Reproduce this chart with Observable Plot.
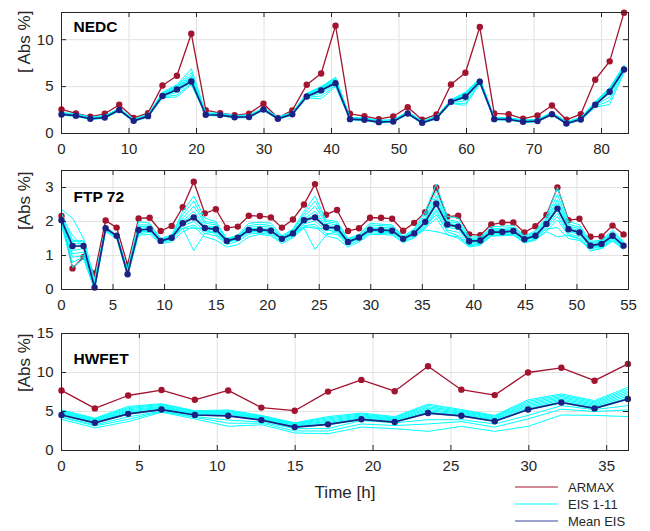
<!DOCTYPE html>
<html><head><meta charset="utf-8">
<script src="https://cdn.jsdelivr.net/npm/d3@7"></script>
<script src="https://cdn.jsdelivr.net/npm/@observablehq/plot@0.6"></script>
<style>
body{margin:0;background:#fff;}
#wrap{position:relative;width:650px;height:531px;font-family:"Liberation Sans",Arial,Helvetica,sans-serif;}
#wrap svg{position:absolute;left:0;}
</style></head><body><div id="wrap"></div>
<script>
// ---------------- NEDC ----------------
const nedcTime = [0,2.14,4.27,6.41,8.55,10.69,12.82,14.96,17.1,19.23,21.37,23.51,25.64,27.78,29.92,32.06,34.19,36.33,38.47,40.6,
  42.74,44.88,47.01,49.15,51.29,53.43,55.56,57.7,59.84,61.97,64.11,66.25,68.38,70.52,72.66,74.8,76.93,79.07,81.21,83.34];
const nedcArmax = [2.56,2.15,1.8,2.1,3.06,1.67,2.17,5.12,6.16,10.64,
  2.49,2.17,1.96,2.12,3.17,1.67,2.46,5.2,6.4,11.5,
  2.1,1.85,1.53,1.82,2.8,1.46,2.03,5.23,6.48,11.35,
  2.14,2.06,1.57,1.92,2.99,1.46,2.06,5.73,7.69,12.88];
const nedcMean = [2.03,1.9,1.57,1.7,2.5,1.35,1.85,4.0,4.7,5.55,
  2.0,1.96,1.74,1.76,2.56,1.57,2.06,3.95,4.6,5.37,
  1.53,1.46,1.21,1.28,2.14,1.14,1.64,3.38,3.91,5.52,
  1.53,1.5,1.25,1.32,2.06,1.07,1.5,3.06,4.45,6.83];
const nedcEis = [
 [2.23,2.1,1.77,1.9,2.7,1.55,2.05,4.4,5.2,6.9, 2.2,2.16,1.94,1.96,2.76,1.77,2.26,4.3,5.0,6.0, 1.73,1.66,1.41,1.48,2.34,1.34,1.84,3.6,4.4,5.9, 1.73,1.7,1.45,1.52,2.26,1.27,1.7,3.4,4.9,7.3],
 [2.19,2.06,1.73,1.86,2.66,1.51,2.01,4.3,5.1,6.5, 2.16,2.12,1.9,1.92,2.72,1.73,2.22,4.25,4.95,5.9, 1.69,1.62,1.37,1.44,2.3,1.3,1.8,3.55,4.35,5.85, 1.69,1.66,1.41,1.48,2.22,1.23,1.66,3.35,4.85,7.2],
 [2.16,2.03,1.7,1.83,2.63,1.48,1.98,4.25,5.0,6.2, 2.13,2.09,1.87,1.89,2.69,1.7,2.19,4.2,4.9,5.8, 1.66,1.59,1.34,1.41,2.27,1.27,1.77,3.5,4.3,5.8, 1.66,1.63,1.38,1.45,2.19,1.2,1.63,3.3,4.8,7.15],
 [2.13,2.0,1.67,1.8,2.6,1.45,1.95,4.2,4.95,6.0, 2.1,2.06,1.84,1.86,2.66,1.67,2.16,4.15,4.85,5.7, 1.63,1.56,1.31,1.38,2.24,1.24,1.74,3.48,4.25,5.75, 1.63,1.6,1.35,1.42,2.16,1.17,1.6,3.25,4.75,7.1],
 [2.1,1.97,1.64,1.77,2.57,1.42,1.92,4.15,4.9,5.9, 2.07,2.03,1.81,1.83,2.63,1.64,2.13,4.1,4.8,5.6, 1.6,1.53,1.28,1.35,2.21,1.21,1.71,3.45,4.2,5.7, 1.6,1.57,1.32,1.39,2.13,1.14,1.57,3.2,4.7,7.05],
 [2.08,1.95,1.62,1.75,2.55,1.4,1.9,4.1,4.8,5.8, 2.05,2.01,1.79,1.81,2.61,1.62,2.11,4.05,4.75,5.55, 1.58,1.51,1.26,1.33,2.19,1.19,1.69,3.42,4.1,5.65, 1.58,1.55,1.3,1.37,2.11,1.12,1.55,3.15,4.6,7.0],
 [2.06,1.93,1.6,1.73,2.53,1.38,1.88,4.05,4.7,5.7, 2.03,1.99,1.77,1.79,2.59,1.6,2.09,4.0,4.7,5.5, 1.56,1.49,1.24,1.31,2.17,1.17,1.67,3.4,4.0,5.6, 1.56,1.53,1.28,1.35,2.09,1.1,1.53,3.1,4.5,6.95],
 [2.04,1.91,1.58,1.71,2.51,1.36,1.86,4.0,4.6,5.6, 2.01,1.97,1.75,1.77,2.57,1.58,2.07,3.95,4.5,5.4, 1.54,1.47,1.22,1.29,2.15,1.15,1.65,3.35,3.8,5.55, 1.54,1.51,1.26,1.33,2.07,1.08,1.51,3.05,4.3,6.9],
 [2.01,1.88,1.55,1.68,2.48,1.33,1.83,3.95,4.4,5.5, 1.98,1.94,1.72,1.74,2.54,1.55,2.04,3.9,4.3,5.3, 1.51,1.44,1.19,1.26,2.12,1.12,1.62,3.3,3.5,5.5, 1.51,1.48,1.23,1.3,2.04,1.05,1.48,3.0,3.9,6.8],
 [1.98,1.85,1.52,1.65,2.45,1.3,1.8,3.9,4.1,5.35, 1.95,1.91,1.69,1.71,2.51,1.52,2.01,3.85,4.0,5.15, 1.48,1.41,1.16,1.23,2.09,1.09,1.59,3.25,3.2,5.4, 1.48,1.45,1.2,1.27,2.01,1.02,1.45,2.9,3.5,6.65],
 [1.95,1.82,1.49,1.62,2.42,1.27,1.77,3.8,3.9,5.2, 1.92,1.88,1.66,1.68,2.48,1.49,1.98,3.8,3.7,5.0, 1.45,1.38,1.13,1.2,2.06,1.06,1.56,3.2,3.0,5.3, 1.45,1.42,1.17,1.24,1.98,0.99,1.42,2.8,3.1,6.5]
];
const nedcXTicks = [0,10,20,30,40,50,60,70,80];
const nedcYTicks = [0,5,10];

// ---------------- FTP 72 ----------------
const ftpTime = [0,1.07,2.14,3.21,4.28,5.35,6.41,7.48,8.55,9.62,10.69,11.76,12.83,13.9,14.97,16.04,17.1,18.17,
  19.24,20.31,21.38,22.45,23.52,24.59,25.66,26.73,27.79,28.86,29.93,31.0,32.07,33.14,34.21,35.28,36.35,
  37.42,38.48,39.55,40.62,41.69,42.76,43.83,44.9,45.97,47.04,48.11,49.18,50.24,51.31,52.38,53.45,54.52];
const ftpArmax = [2.16,0.62,0.96,0.47,2.03,1.82,0.72,2.09,2.11,1.72,1.87,2.42,3.17,2.24,2.36,1.81,1.85,2.17,
  2.16,2.12,1.82,2.06,2.5,3.1,2.2,2.34,1.72,1.8,2.11,2.11,2.08,1.73,1.96,2.27,3.0,
  2.14,2.17,1.62,1.6,1.91,1.97,1.97,1.68,1.86,2.19,3.0,2.04,2.08,1.55,1.56,1.88,1.62];
const ftpMean = [2.04,1.28,1.28,0.06,1.8,1.58,0.45,1.75,1.78,1.43,1.52,1.95,2.12,1.81,1.77,1.43,1.52,1.75,
  1.76,1.73,1.49,1.65,2.04,2.12,1.83,1.81,1.40,1.53,1.76,1.75,1.73,1.49,1.65,1.99,2.52,
  1.91,1.85,1.42,1.44,1.69,1.69,1.72,1.48,1.58,1.93,2.38,1.77,1.68,1.29,1.34,1.58,1.29];
const ftpEis = [
 [2.35,2.10,1.50,0.30,1.85,1.60,0.60,2.00,1.95,1.50,1.60,2.30,2.75,2.10,2.00,1.50,1.60,1.95, 1.98,1.95,1.58,1.78,2.30,2.75,2.05,2.00,1.50,1.62,1.95,1.92,1.90,1.57,1.78,2.30,3.10, 2.15,2.10,1.55,1.55,1.85,1.86,1.88,1.58,1.72,2.15,3.00,2.00,1.90,1.42,1.45,1.75,1.42],
 [2.25,1.45,1.40,0.20,1.84,1.60,0.55,1.90,1.90,1.48,1.58,2.20,2.60,2.00,1.95,1.48,1.58,1.88, 1.92,1.88,1.55,1.75,2.22,2.60,2.00,1.95,1.47,1.60,1.90,1.88,1.86,1.55,1.74,2.20,2.90, 2.05,2.00,1.50,1.52,1.80,1.80,1.83,1.55,1.68,2.08,2.80,1.92,1.83,1.38,1.42,1.70,1.38],
 [2.15,1.35,1.35,0.12,1.82,1.59,0.50,1.85,1.86,1.46,1.56,2.10,2.45,1.95,1.90,1.46,1.56,1.83, 1.86,1.83,1.53,1.71,2.15,2.45,1.95,1.90,1.45,1.57,1.84,1.83,1.81,1.53,1.71,2.12,2.75, 2.00,1.95,1.47,1.49,1.76,1.76,1.79,1.53,1.64,2.03,2.65,1.87,1.78,1.35,1.39,1.66,1.35],
 [2.08,1.25,1.30,0.08,1.80,1.58,0.47,1.80,1.82,1.44,1.54,2.02,2.30,1.88,1.84,1.44,1.54,1.79, 1.80,1.77,1.51,1.68,2.08,2.30,1.88,1.85,1.42,1.55,1.80,1.79,1.77,1.51,1.68,2.05,2.65, 1.95,1.90,1.45,1.47,1.73,1.73,1.75,1.50,1.61,1.98,2.55,1.82,1.73,1.32,1.37,1.62,1.32],
 [2.02,1.15,1.20,0.05,1.79,1.57,0.45,1.76,1.79,1.43,1.52,1.97,2.20,1.84,1.80,1.42,1.52,1.76, 1.77,1.74,1.49,1.66,2.04,2.20,1.85,1.82,1.40,1.53,1.77,1.76,1.74,1.49,1.66,2.00,2.55, 1.92,1.87,1.43,1.45,1.70,1.70,1.73,1.48,1.59,1.95,2.45,1.78,1.70,1.30,1.35,1.59,1.30],
 [1.98,1.05,1.10,0.03,1.78,1.56,0.44,1.72,1.75,1.42,1.50,1.92,2.10,1.78,1.74,1.40,1.50,1.72, 1.73,1.70,1.47,1.63,1.98,2.12,1.80,1.77,1.38,1.51,1.73,1.72,1.70,1.47,1.63,1.95,2.45, 1.88,1.82,1.40,1.42,1.67,1.67,1.70,1.46,1.56,1.90,2.35,1.74,1.66,1.27,1.32,1.56,1.27],
 [1.95,0.95,1.00,0.02,1.76,1.55,0.42,1.68,1.72,1.40,1.48,1.88,2.00,1.72,1.68,1.37,1.48,1.68, 1.70,1.67,1.45,1.60,1.93,2.02,1.74,1.72,1.35,1.49,1.70,1.69,1.67,1.45,1.60,1.90,2.35, 1.83,1.77,1.37,1.40,1.64,1.64,1.67,1.44,1.53,1.86,2.25,1.70,1.62,1.24,1.29,1.53,1.24],
 [1.92,0.80,0.95,0.01,1.74,1.53,0.41,1.64,1.68,1.38,1.45,1.80,1.90,1.65,1.58,1.32,1.42,1.63, 1.66,1.62,1.40,1.56,1.87,1.92,1.65,1.62,1.30,1.45,1.66,1.65,1.63,1.41,1.56,1.85,2.20, 1.75,1.68,1.32,1.36,1.60,1.61,1.63,1.40,1.49,1.80,2.15,1.64,1.55,1.20,1.25,1.48,1.20],
 [1.90,0.65,0.90,0.00,1.70,1.50,0.40,1.60,1.62,1.35,1.40,1.70,1.85,1.55,1.45,1.25,1.32,1.55, 1.62,1.58,1.35,1.52,1.82,1.85,1.58,1.50,1.25,1.40,1.62,1.62,1.60,1.38,1.52,1.80,2.10, 1.60,1.55,1.28,1.33,1.57,1.58,1.60,1.37,1.45,1.72,2.05,1.58,1.48,1.15,1.20,1.42,1.18],
 [2.00,1.40,1.45,0.10,1.78,1.56,0.50,1.70,1.72,1.42,1.52,1.80,1.80,1.80,1.62,1.38,1.50,1.70, 1.72,1.70,1.48,1.62,1.85,1.80,1.80,1.66,1.36,1.50,1.72,1.72,1.70,1.47,1.60,1.82,2.30, 1.70,1.58,1.30,1.38,1.66,1.66,1.69,1.46,1.55,1.78,1.82,1.50,1.44,1.22,1.28,1.50,1.25],
 [2.10,1.60,1.20,0.15,1.80,1.58,0.55,1.75,1.75,1.45,1.55,1.80,1.14,1.65,1.70,1.40,1.52,1.70, 1.74,1.72,1.48,1.64,1.80,1.18,1.60,1.72,1.38,1.52,1.74,1.74,1.72,1.48,1.62,1.75,1.70, 1.62,1.50,1.25,1.30,1.58,1.60,1.62,1.38,1.48,1.70,1.55,1.60,1.50,1.13,1.22,1.45,1.22]
];
const ftpXTicks = [0,5,10,15,20,25,30,35,40,45,50,55];
const ftpYTicks = [0,1,2,3];

// ---------------- HWFET ----------------
const hwTime = [0,2.14,4.28,6.42,8.56,10.7,12.83,14.97,17.11,19.25,21.39,23.53,25.67,27.81,29.95,32.09,34.22,36.36];
const hwArmax = [7.7,5.4,7.05,7.75,6.5,7.7,5.5,5.1,7.55,9.05,7.6,10.8,7.8,7.1,10.0,10.6,8.95,11.1];
const hwMean = [4.55,3.55,4.7,5.25,4.55,4.45,3.9,3.0,3.35,4.0,3.65,4.8,4.45,3.75,5.25,6.15,5.4,6.6];
const hwEis = [
 [5.2,4.15,5.65,6.0,5.1,5.2,4.5,3.55,4.35,4.8,4.35,5.95,5.25,4.5,6.5,7.25,6.4,8.1],
 [5.1,4.05,5.5,5.9,5.02,5.09,4.41,3.47,4.2,4.68,4.25,5.78,5.13,4.39,6.31,7.09,6.25,7.88],
 [5.0,3.97,5.37,5.78,4.94,4.98,4.32,3.39,4.05,4.56,4.14,5.6,5.01,4.28,6.13,6.92,6.1,7.65],
 [4.9,3.88,5.22,5.66,4.85,4.86,4.23,3.3,3.9,4.44,4.04,5.43,4.89,4.16,5.94,6.76,5.95,7.43],
 [4.81,3.79,5.08,5.55,4.77,4.75,4.14,3.22,3.75,4.32,3.93,5.26,4.77,4.05,5.75,6.59,5.8,7.2],
 [4.71,3.7,4.94,5.44,4.69,4.64,4.05,3.14,3.6,4.2,3.83,5.09,4.65,3.94,5.56,6.43,5.65,6.98],
 [4.62,3.61,4.8,5.33,4.6,4.52,3.96,3.05,3.45,4.08,3.72,4.92,4.53,3.83,5.38,6.26,5.5,6.75],
 [4.52,3.52,4.65,5.21,4.52,4.41,3.87,2.97,3.3,3.96,3.62,4.74,4.41,3.71,5.19,6.1,5.35,6.53],
 [4.3,3.3,4.3,5.05,4.35,3.9,3.65,2.8,2.8,3.85,3.55,3.95,3.95,3.4,4.5,5.75,5.25,5.75],
 [4.25,3.15,4.0,5.0,4.25,3.5,3.5,2.5,2.5,3.4,3.2,3.4,3.7,3.0,4.05,5.3,5.0,5.2],
 [4.0,2.9,3.7,4.9,4.05,3.1,3.3,2.25,2.15,3.0,2.8,2.45,3.1,2.45,3.1,4.55,4.5,4.35]
];
const hwXTicks = [0,5,10,15,20,25,30,35];
const hwYTicks = [0,5,10,15];

const seriesNames = ["ARMAX","EIS 1-11","Mean EIS"];

// ---------------- drawing ----------------
const FONT = '"Liberation Sans", Arial, Helvetica, sans-serif';
const RED = "#a2142f", CYAN = "#00ffff", NAVY = "#1c2184", INK = "#262626", GRID = "#e2e2e2";
const ML = 61, MR = 22, W = 650;

function panel(o) {
  const ph = o.height - o.mt - o.mb;
  const pw = W - ML - MR;
  const arm = o.time.map((t, i) => ({t, v: o.armax[i]}));
  const mean = o.time.map((t, i) => ({t, v: o.mean[i]}));
  const eis = o.eis.flatMap((s, k) => s.map((v, i) => ({t: o.time[i], v, k})));
  const marks = [
    Plot.gridX(o.xTicks, {stroke: GRID, strokeOpacity: 1}),
    Plot.gridY(o.yTicks, {stroke: GRID, strokeOpacity: 1}),
    Plot.line(arm, {x: "t", y: "v", stroke: RED, strokeWidth: 1.3}),
    Plot.dot(arm, {x: "t", y: "v", r: 3.2, fill: RED, stroke: "none"}),
    Plot.line(eis, {x: "t", y: "v", z: "k", stroke: CYAN, strokeWidth: 1}),
    Plot.line(mean, {x: "t", y: "v", stroke: NAVY, strokeWidth: 1.7}),
    Plot.dot(mean, {x: "t", y: "v", r: 3.2, fill: NAVY, stroke: "none"}),
    Plot.tickX(o.xTicks, {x: d => d, stroke: INK, insetTop: ph - 5}),
    Plot.tickX(o.xTicks, {x: d => d, stroke: INK, insetBottom: ph - 5}),
    Plot.tickY(o.yTicks, {y: d => d, stroke: INK, insetRight: pw - 5}),
    Plot.tickY(o.yTicks, {y: d => d, stroke: INK, insetLeft: pw - 5}),
    Plot.frame({stroke: INK, strokeWidth: 1}),
    Plot.axisX(o.xTicks, {tickSize: 0, tickPadding: 10, label: null, fill: INK, fontSize: 15}),
    Plot.axisY(o.yTicks, {tickSize: 0, tickPadding: 8, label: null, fill: INK, fontSize: 15}),
    Plot.text([o.ylabel], {frameAnchor: "left", text: d => d, rotate: -90, dx: -37, fontSize: 17, fill: INK}),
    Plot.text([o.title], {frameAnchor: "top-left", text: d => d, dx: 12, dy: o.titleDy, fontWeight: "bold",
      fontSize: 15.5, textAnchor: "start", lineAnchor: "top", fill: "#000"})
  ];
  if (o.xlabel) marks.push(Plot.text([o.xlabel], {frameAnchor: "bottom", text: d => d, dy: 42, fontSize: 17, fill: INK, lineAnchor: "middle"}));
  const svg = Plot.plot({
    width: W, height: o.height,
    marginLeft: ML, marginRight: MR, marginTop: o.mt, marginBottom: o.mb,
    style: {fontFamily: FONT, fontSize: "15px", color: INK, background: "transparent", overflow: "visible"},
    x: {domain: o.xDomain},
    y: {domain: o.yDomain},
    marks
  });
  svg.style.top = o.top + "px";
  return svg;
}

const wrap = document.getElementById("wrap");
wrap.appendChild(panel({time: nedcTime, armax: nedcArmax, mean: nedcMean, eis: nedcEis,
  xDomain: [0, 84], yDomain: [0, 12.9], xTicks: nedcXTicks, yTicks: nedcYTicks,
  title: "NEDC", ylabel: "[ Abs %]", top: 0, height: 160, mt: 12, mb: 27, titleDy: 8}));
wrap.appendChild(panel({time: ftpTime, armax: ftpArmax, mean: ftpMean, eis: ftpEis,
  xDomain: [0, 55], yDomain: [0, 3.5], xTicks: ftpXTicks, yTicks: ftpYTicks,
  title: "FTP 72", ylabel: "[Abs %]", top: 160, height: 156, mt: 10, mb: 27, titleDy: 20}));
wrap.appendChild(panel({time: hwTime, armax: hwArmax, mean: hwMean, eis: hwEis,
  xDomain: [0, 36.4], yDomain: [0, 15], xTicks: hwXTicks, yTicks: hwYTicks,
  title: "HWFET", ylabel: "[Abs %]", xlabel: "Time [h]", top: 316, height: 215, mt: 17, mb: 81, titleDy: 19}));

// legend
const legend = d3.create("svg").attr("width", W).attr("height", 531)
  .style("top", "0px").style("pointer-events", "none");
const legColors = [RED, CYAN, "#3b45a0"];
const legY = [487, 504, 521];
seriesNames.forEach((name, i) => {
  legend.append("line").attr("x1", 515).attr("x2", 558).attr("y1", legY[i]).attr("y2", legY[i])
    .attr("stroke", legColors[i]).attr("stroke-width", 1.2);
  legend.append("text").attr("x", 568).attr("y", legY[i]).attr("dy", "0.35em")
    .attr("font-family", FONT).attr("font-size", 13).attr("fill", INK).text(name);
});
wrap.appendChild(legend.node());
</script>
</body></html>
